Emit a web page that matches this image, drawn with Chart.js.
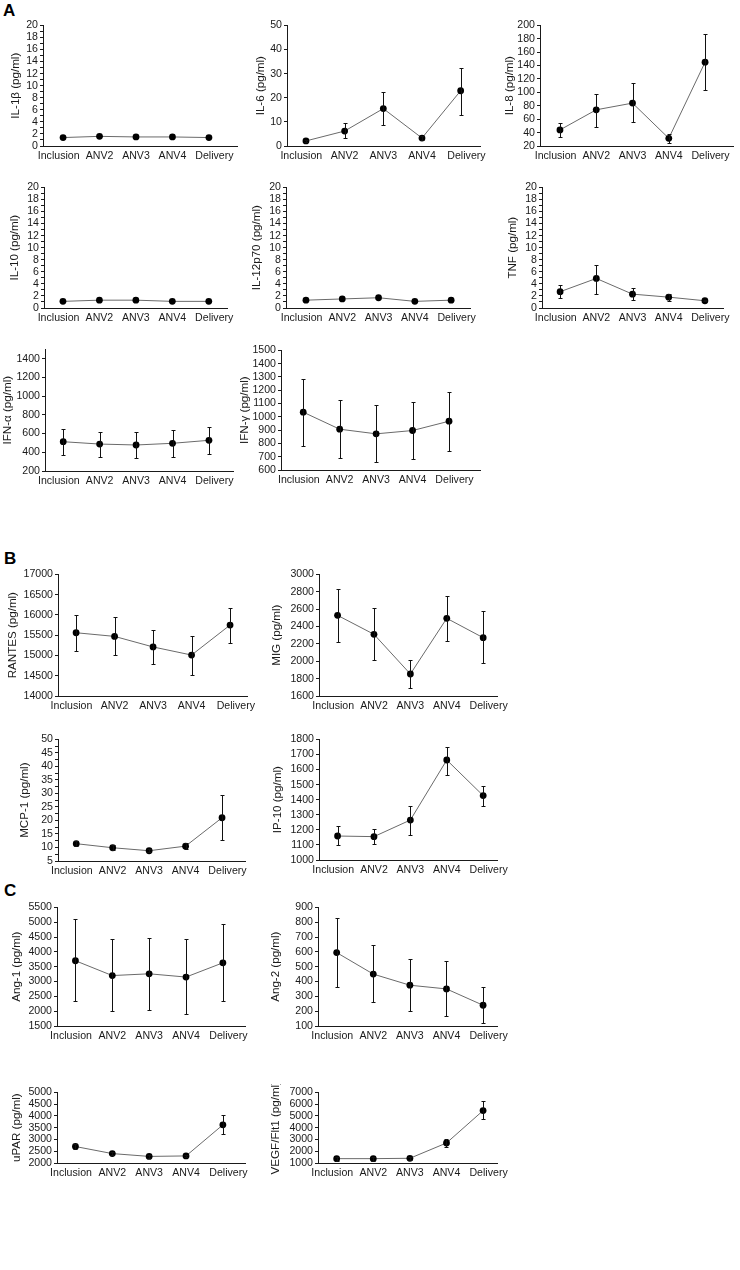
<!DOCTYPE html>
<html>
<head>
<meta charset="utf-8">
<script src="https://cdn.jsdelivr.net/npm/chart.js@4.4.1/dist/chart.umd.min.js"></script>
<style>
  body { margin: 0; background: #fff; }
  #page { position: relative; width: 740px; height: 1270px; overflow: hidden; }
  .tag { position: absolute; font: bold 17px "Liberation Sans", Arial, sans-serif; color: #000; }
  canvas { position: absolute; }
</style>
</head>
<body>
<div id="page">
  <div class="tag" style="left:3px;top:1px">A</div>
  <div class="tag" style="left:4px;top:549px">B</div>
  <div class="tag" style="left:4px;top:881px">C</div>
</div>
<script>
const timepoints = ['Inclusion', 'ANV2', 'ANV3', 'ANV4', 'Delivery'];

// A - cytokines (mean, lower and upper end of error bar)
const il1b = [1.4, 1.6, 1.5, 1.5, 1.4];
const il6 = [2.1, 6.2, 15.5, 3.3, 22.9];
const il6Lo = [1.7, 3.2, 8.8, 2.3, 13];
const il6Hi = [2.5, 9.5, 22.5, 4.3, 32.5];
const il8 = [44, 74, 84, 31.5, 145];
const il8Lo = [33, 49, 56, 24.5, 103.5];
const il8Hi = [55, 97.5, 114, 38.5, 187.5];
const il10 = [1.1, 1.3, 1.3, 1.1, 1.1];
const il12 = [1.3, 1.5, 1.7, 1.1, 1.3];
const tnf = [2.7, 4.9, 2.3, 1.8, 1.2];
const tnfLo = [1.7, 2.4, 1.4, 1.2, 1.1];
const tnfHi = [3.8, 7.2, 3.3, 2.4, 1.3];
const ifna = [513, 488, 478, 496, 528];
const ifnaLo = [371, 346, 342, 350, 382];
const ifnaHi = [652, 620, 620, 638, 670];
const ifng = [1035, 907, 872, 897, 967];
const ifngLo = [780, 687, 657, 680, 745];
const ifngHi = [1287, 1130, 1090, 1110, 1190];

// B - chemokines
const rantes = [15560, 15470, 15210, 15010, 15750];
const rantesLo = [15118, 15002, 14781, 14526, 15306];
const rantesHi = [16005, 15940, 15627, 15479, 16161];
const mig = [2528, 2310, 1853, 2494, 2271];
const migLo = [2218, 2018, 1692, 2233, 1984];
const migHi = [2835, 2613, 2018, 2747, 2578];
const mcp1 = [11.4, 9.9, 8.8, 10.5, 21.0];
const mcp1Lo = [10.4, 9.1, 8.3, 9.4, 12.8];
const mcp1Hi = [12.4, 10.8, 9.4, 11.5, 29.5];
const ip10 = [1159, 1155, 1265, 1663, 1427];
const ip10Lo = [1097, 1104, 1166, 1566, 1356];
const ip10Hi = [1228, 1208, 1358, 1751, 1493];

// C - angiogenic markers
const ang1 = [3700, 3200, 3260, 3150, 3630];
const ang1Lo = [2350, 2000, 2050, 1900, 2330];
const ang1Hi = [5100, 4430, 4480, 4430, 4950];
const ang2 = [595, 450, 375, 350, 240];
const ang2Lo = [360, 260, 200, 165, 120];
const ang2Hi = [830, 645, 555, 535, 360];
const upar = [2700, 2400, 2280, 2300, 3620];
const uparLo = [2610, 2330, 2220, 2240, 3220];
const uparHi = [2790, 2470, 2340, 2360, 4030];
const vegf = [1370, 1370, 1400, 2700, 5450];
const vegfLo = [1200, 1200, 1250, 2400, 4750];
const vegfHi = [1540, 1540, 1550, 3000, 6250];

// axis ranges and where each panel sits: box = [axis x, top, right end, bottom]
const panels = [
  { title: 'IL-1β (pg/ml)', mean: il1b, min: 0, max: 20, major: 2, minor: 1, box: [43, 25, 237, 146], xr: [-0.55, 4.77], w: 34 },
  { title: 'IL-6 (pg/ml)', mean: il6, lo: il6Lo, hi: il6Hi, min: 0, max: 50, major: 10, minor: 10, box: [287, 25, 480, 146], xr: [-0.49, 4.5], w: 33 },
  { title: 'IL-8 (pg/ml)', mean: il8, lo: il8Lo, hi: il8Hi, min: 20, max: 200, major: 20, minor: 20, box: [540, 25, 733, 146], xr: [-0.55, 4.77], w: 37 },
  { title: 'IL-10 (pg/ml)', mean: il10, min: 0, max: 20, major: 2, minor: 1, box: [44, 187, 227, 308], xr: [-0.52, 4.5], w: 36 },
  { title: 'IL-12p70 (pg/ml)', mean: il12, min: 0, max: 20, major: 2, minor: 1, box: [286, 187, 470, 308], xr: [-0.55, 4.52], w: 36 },
  { title: 'TNF (pg/ml)', mean: tnf, lo: tnfLo, hi: tnfHi, min: 0, max: 20, major: 2, minor: 1, box: [542, 187, 723, 308], xr: [-0.5, 4.5], w: 36 },
  { title: 'IFN-α (pg/ml)', mean: ifna, lo: ifnaLo, hi: ifnaHi, min: 200, max: 1500, top: 1400, major: 200, minor: 200, box: [45, 349, 233, 471], xr: [-0.5, 4.66], w: 44 },
  { title: 'IFN-γ (pg/ml)', mean: ifng, lo: ifngLo, hi: ifngHi, min: 600, max: 1500, major: 100, minor: 100, box: [281, 350, 480, 470], xr: [-0.61, 4.85], w: 43 },
  { title: 'RANTES (pg/ml)', mean: rantes, lo: rantesLo, hi: rantesHi, min: 14000, max: 17000, major: 500, minor: 500, box: [58, 574, 247, 696], xr: [-0.47, 4.44], w: 52 },
  { title: 'MIG (pg/ml)', mean: mig, lo: migLo, hi: migHi, min: 1600, max: 3000, major: 200, minor: 200, box: [319, 574, 497, 696], xr: [-0.51, 4.38], w: 49 },
  { title: 'MCP-1 (pg/ml)', mean: mcp1, lo: mcp1Lo, hi: mcp1Hi, min: 5, max: 50, major: 5, minor: 2.5, box: [58, 739, 245, 861], xr: [-0.5, 4.63], w: 40 },
  { title: 'IP-10 (pg/ml)', mean: ip10, lo: ip10Lo, hi: ip10Hi, min: 1000, max: 1800, major: 100, minor: 100, box: [319, 739, 497, 860], xr: [-0.51, 4.38], w: 48 },
  { title: 'Ang-1 (pg/ml)', mean: ang1, lo: ang1Lo, hi: ang1Hi, min: 1500, max: 5500, major: 500, minor: 500, box: [57, 907, 245, 1026], xr: [-0.5, 4.6], w: 47 },
  { title: 'Ang-2 (pg/ml)', mean: ang2, lo: ang2Lo, hi: ang2Hi, min: 100, max: 900, major: 100, minor: 100, box: [318, 907, 497, 1026], xr: [-0.51, 4.38], w: 49 },
  { title: 'uPAR (pg/ml)', mean: upar, lo: uparLo, hi: uparHi, min: 2000, max: 5000, major: 500, minor: 500, box: [57, 1092, 245, 1163], xr: [-0.5, 4.6], w: 47 },
  { title: 'VEGF/Flt1 (pg/ml)', mean: vegf, lo: vegfLo, hi: vegfHi, min: 1000, max: 7000, major: 1000, minor: 1000, box: [318, 1092, 497, 1163], xr: [-0.51, 4.38], w: 49 }
];

// category labels sit a little apart at the ends, as in the original figure
const labelShift = [-0.12, 0, 0, 0, 0.15];

const tickFont = { family: '"Liberation Sans", Arial, sans-serif', size: 10.6 };
const titleFont = { family: '"Liberation Sans", Arial, sans-serif', size: 11.6 };
const ink = '#1a1a1a';
const PT = 8, PR = 30, XH = 21;

// vertical error bars with small caps
const errorBars = {
  id: 'errorBars',
  afterDatasetsDraw(chart) {
    const ds = chart.data.datasets[0];
    if (!ds.lo) return;
    const xs = chart.scales.x, ys = chart.scales.y, ctx = chart.ctx;
    ctx.save();
    ctx.strokeStyle = '#111';
    ctx.lineWidth = 1;
    ds.data.forEach((p, i) => {
      const x = Math.round(xs.getPixelForValue(p.x)) + 0.5;
      const a = Math.round(ys.getPixelForValue(ds.lo[i])) + 0.5;
      const b = Math.round(ys.getPixelForValue(ds.hi[i])) + 0.5;
      ctx.beginPath();
      ctx.moveTo(x, a); ctx.lineTo(x, b);
      ctx.moveTo(x - 2, a); ctx.lineTo(x + 2, a);
      ctx.moveTo(x - 2, b); ctx.lineTo(x + 2, b);
      ctx.stroke();
    });
    ctx.restore();
  }
};

const page = document.getElementById('page');

panels.forEach(p => {
  const [ax, top, right, bottom] = p.box;
  const cv = document.createElement('canvas');
  const cw = (right - ax) + p.w + PR;
  const ch = (bottom - top) + PT + XH;
  cv.width = cw; cv.height = ch;
  cv.style.left = (ax - p.w) + 'px';
  cv.style.top = (top - PT) + 'px';
  cv.style.width = cw + 'px';
  cv.style.height = ch + 'px';
  page.appendChild(cv);

  const tickTop = p.top !== undefined ? p.top : p.max;
  const yTicks = [];
  for (let v = p.min; v <= tickTop + 1e-9; v += p.minor) yTicks.push(+v.toFixed(4));

  new Chart(cv, {
    type: 'line',
    data: {
      datasets: [{
        data: p.mean.map((v, i) => ({ x: i, y: v })),
        lo: p.lo, hi: p.hi,
        borderColor: '#6a6a6a',
        borderWidth: 1,
        pointRadius: 3.4,
        pointBackgroundColor: '#000',
        pointBorderColor: '#000',
        pointBorderWidth: 0,
        tension: 0
      }]
    },
    options: {
      responsive: false,
      animation: false,
      events: [],
      layout: { padding: { top: PT, right: PR, left: 0, bottom: 0 } },
      plugins: { legend: { display: false }, tooltip: { enabled: false } },
      scales: {
        x: {
          type: 'linear',
          min: p.xr[0], max: p.xr[1],
          grid: { display: false, drawTicks: false },
          border: { color: ink, width: 1 },
          afterBuildTicks: a => { a.ticks = timepoints.map((_, i) => ({ value: i + labelShift[i] })); },
          afterFit: a => { a.height = XH; },
          ticks: {
            autoSkip: false, maxRotation: 0, padding: 4, color: ink, font: tickFont,
            callback: (v, i) => timepoints[i]
          }
        },
        y: {
          min: p.min, max: p.max,
          grid: { drawOnChartArea: false, drawTicks: true, tickLength: 3, color: ink },
          border: { color: ink, width: 1 },
          afterBuildTicks: a => { a.ticks = yTicks.map(v => ({ value: v })); },
          afterFit: a => { a.width = p.w; },
          ticks: {
            autoSkip: false, padding: 2, color: ink, font: tickFont,
            callback: v => {
              const k = (v - p.min) / p.major;
              return Math.abs(k - Math.round(k)) < 1e-6 ? String(v) : '';
            }
          },
          title: { display: true, text: p.title, color: ink, font: titleFont, padding: 0 }
        }
      }
    },
    plugins: [errorBars]
  });
});
</script>
</body>
</html>
